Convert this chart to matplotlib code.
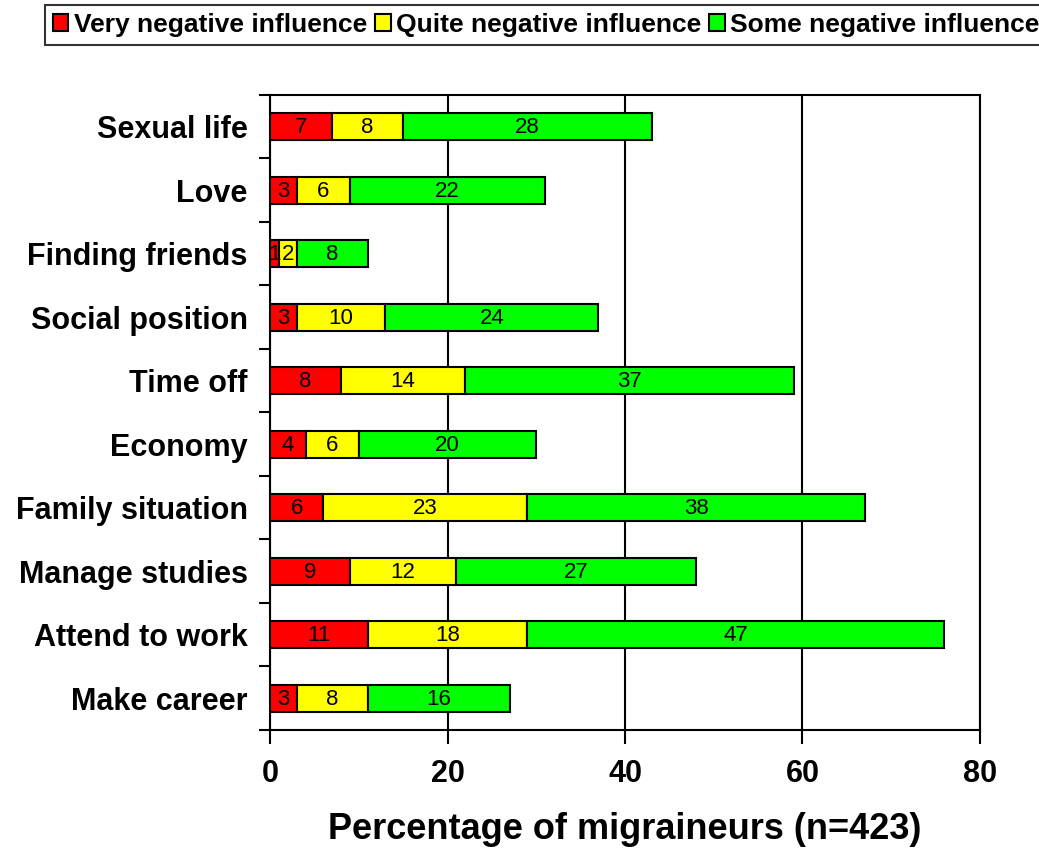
import numpy as np
import matplotlib.pyplot as plt
from matplotlib.patches import Patch

plt.rcParams['font.family'] = ['Liberation Sans', 'DejaVu Sans']

categories = ['Sexual life', 'Love', 'Finding friends', 'Social position', 'Time off',
              'Economy', 'Family situation', 'Manage studies', 'Attend to work', 'Make career']
very_neg = [7, 3, 1, 3, 8, 4, 6, 9, 11, 3]
quite_neg = [8, 6, 2, 10, 14, 6, 23, 12, 18, 8]
some_neg = [28, 22, 8, 24, 37, 20, 38, 27, 47, 16]
series_names = ['Very negative influence', 'Quite negative influence', 'Some negative influence']
colors = ['#ff0000', '#ffff00', '#00ff00']
x_ticks = [0, 20, 40, 60, 80]

fig = plt.figure(figsize=(10.39, 8.48), dpi=100)
ax = fig.add_axes([0.2599, 0.1392, 0.6833, 0.7488])

y = np.arange(len(categories))
left = np.zeros(len(categories))
for vals, col in zip([very_neg, quite_neg, some_neg], colors):
    vals = np.array(vals)
    bars = ax.barh(y, vals, left=left, height=0.43, color=col, edgecolor='black',
                   linewidth=1.5, zorder=3)
    for b, v in zip(bars, vals):
        ax.text(b.get_x() + b.get_width() / 2, b.get_y() + b.get_height() / 2 + 0.02, str(v),
                ha='center', va='center', fontsize=16, zorder=4)
    left += vals

ax.set_ylim(len(categories) - 0.5, -0.5)
ax.set_xlim(0, 80)
ax.set_xticks(x_ticks)
ax.set_xticklabels([str(t) for t in x_ticks], fontsize=22, fontweight='bold')
ax.set_yticks(y)
ax.set_yticklabels(categories, fontsize=22, fontweight='bold')
ax.set_yticks(np.arange(-0.5, len(categories), 1), minor=True)
ax.tick_params(axis='y', which='major', length=0, pad=16)
ax.tick_params(axis='y', which='minor', length=8, width=1.5, direction='out')
ax.tick_params(axis='x', which='major', length=10, width=1.5, direction='out', pad=11)
ax.grid(axis='x', color='black', linewidth=1.5, zorder=1)
for s in ax.spines.values():
    s.set_linewidth(1.5)
ax.set_xlabel('Percentage of migraineurs (n=423)', fontsize=26, fontweight='bold',
              va='center')
ax.xaxis.set_label_coords(0.5, -0.157)

handles = [Patch(facecolor=c, edgecolor='black', linewidth=1.5) for c in colors]
leg = fig.legend(handles, series_names, loc='upper left', bbox_to_anchor=(0.043, 0.994),
                 ncol=3, prop={'weight': 'bold', 'size': 19}, frameon=True,
                 fancybox=False, edgecolor='black', handlelength=0.6, handleheight=0.6,
                 handletextpad=0.2, columnspacing=0.3, borderpad=0.3, borderaxespad=0)
leg.get_frame().set_linewidth(1.5)

fig.savefig('out.png', dpi=100)
